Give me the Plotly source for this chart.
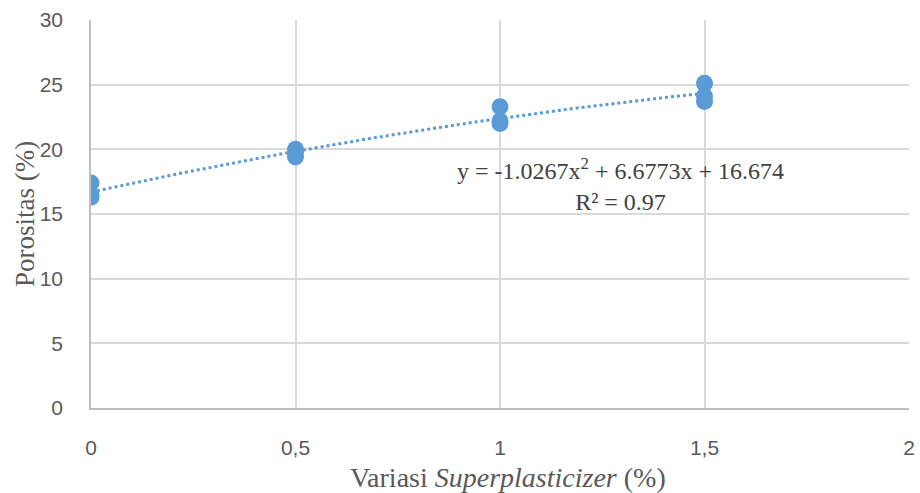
import numpy as np
import plotly.graph_objects as go

x_vals = [0, 0, 0, 0.5, 0.5, 0.5, 1, 1, 1, 1.5, 1.5, 1.5]
y_vals = [17.4, 16.3, 16.5, 20.0, 19.4, 19.8, 23.3, 22.2, 22.0, 25.1, 24.1, 23.7]
x_ticks = [0, 0.5, 1, 1.5, 2]
x_tick_labels = ["0", "0,5", "1", "1,5", "2"]
y_ticks = [0, 5, 10, 15, 20, 25, 30]

color = "#5B9BD5"

coef = np.polyfit(x_vals, y_vals, 2)
xf = np.linspace(0, 1.5, 100)
yf = np.polyval(coef, xf)

fig = go.Figure()
fig.add_trace(go.Scatter(x=xf, y=yf, mode="lines",
                         line=dict(color=color, width=3, dash="dot"),
                         hoverinfo="skip", showlegend=False))
fig.add_trace(go.Scatter(x=x_vals, y=y_vals, mode="markers",
                         marker=dict(color=color, size=17),
                         showlegend=False))

serif = "Liberation Serif, Times New Roman, serif"
sans = "Liberation Sans, Calibri, sans-serif"

fig.add_annotation(x=0.647, y=0.576, xref="paper", yref="paper",
                   xanchor="center", yanchor="middle",
                   text="y = -1.0267x<sup>2</sup> + 6.6773x + 16.674<br>R² = 0.97",
                   showarrow=False, align="center",
                   font=dict(family=serif, size=24, color="#404040"))
fig.add_annotation(x=-0.0807, y=0.5, xref="paper", yref="paper",
                   xanchor="center", yanchor="middle", textangle=-90,
                   text="Porositas (%)", showarrow=False,
                   font=dict(family=serif, size=27, color="#595959"))
fig.add_annotation(x=0.51, y=-0.178, xref="paper", yref="paper",
                   xanchor="center", yanchor="middle",
                   text="Variasi <i>Superplasticizer</i> (%)", showarrow=False,
                   font=dict(family=serif, size=28, color="#595959"))

fig.update_layout(
    width=920, height=493,
    margin=dict(l=91, r=11, t=20, b=85),
    paper_bgcolor="white", plot_bgcolor="white",
    xaxis=dict(range=[0, 2], tickvals=x_ticks, ticktext=x_tick_labels,
               automargin=False,
               showgrid=True, gridcolor="#D9D9D9", gridwidth=1.5,
               zeroline=False, showline=True, linecolor="#BFBFBF", linewidth=1.5,
               ticks="", ticklabelstandoff=20,
               tickfont=dict(family=sans, size=21, color="#595959")),
    yaxis=dict(range=[0, 30], tickvals=y_ticks,
               automargin=False,
               showgrid=True, gridcolor="#D9D9D9", gridwidth=1.5,
               zeroline=False, showline=True, linecolor="#BFBFBF", linewidth=1.5,
               ticks="", ticklabelstandoff=22,
               tickfont=dict(family=sans, size=21, color="#595959")),
)

fig.write_html("out.html",
               config={"displayModeBar": False},
               post_script="document.body.style.margin='0';document.body.style.overflow='hidden';")
